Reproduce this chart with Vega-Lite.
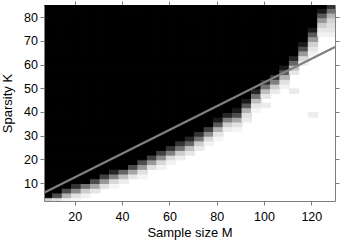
{
"$schema":"https://vega.github.io/schema/vega-lite/v6.json",
"autosize":"none","width":291,"height":196,
"padding":{"left":44,"top":5,"right":11,"bottom":40},
"background":"white",
"config":{"view":{"stroke":null},"font":"Liberation Sans","axis":{"grid":false,"domainColor":"#7f7f7f","tickColor":"#7f7f7f","tickSize":4,"labelColor":"#000","titleColor":"#000","labelFontSize":12.5,"titleFontSize":13,"titleFontWeight":"normal"}},
"datasets":{
"cells":[
{"M":6.5,"K":2,"p":0.82},{"M":6.5,"K":4,"p":0},{"M":6.5,"K":6,"p":0},{"M":6.5,"K":8,"p":0},{"M":6.5,"K":10,"p":0},{"M":6.5,"K":12,"p":0},{"M":6.5,"K":14,"p":0},{"M":6.5,"K":16,"p":0},{"M":6.5,"K":18,"p":0},{"M":6.5,"K":20,"p":0},{"M":6.5,"K":22,"p":0},{"M":6.5,"K":24,"p":0},{"M":6.5,"K":26,"p":0},{"M":6.5,"K":28,"p":0},{"M":6.5,"K":30,"p":0},{"M":6.5,"K":32,"p":0},{"M":6.5,"K":34,"p":0},{"M":6.5,"K":36,"p":0},{"M":6.5,"K":38,"p":0},{"M":6.5,"K":40,"p":0},{"M":6.5,"K":42,"p":0},{"M":6.5,"K":44,"p":0},{"M":6.5,"K":46,"p":0},{"M":6.5,"K":48,"p":0},{"M":6.5,"K":50,"p":0},{"M":6.5,"K":52,"p":0},{"M":6.5,"K":54,"p":0},{"M":6.5,"K":56,"p":0},{"M":6.5,"K":58,"p":0},{"M":6.5,"K":60,"p":0},{"M":6.5,"K":62,"p":0},{"M":6.5,"K":64,"p":0},{"M":6.5,"K":66,"p":0},{"M":6.5,"K":68,"p":0},{"M":6.5,"K":70,"p":0},{"M":6.5,"K":72,"p":0},{"M":6.5,"K":74,"p":0},{"M":6.5,"K":76,"p":0},{"M":6.5,"K":78,"p":0},{"M":6.5,"K":80,"p":0},{"M":6.5,"K":82,"p":0},{"M":6.5,"K":84,"p":0},
{"M":10.5,"K":2,"p":0.88},{"M":10.5,"K":4,"p":0.3},{"M":10.5,"K":6,"p":0},{"M":10.5,"K":8,"p":0},{"M":10.5,"K":10,"p":0},{"M":10.5,"K":12,"p":0},{"M":10.5,"K":14,"p":0},{"M":10.5,"K":16,"p":0},{"M":10.5,"K":18,"p":0},{"M":10.5,"K":20,"p":0},{"M":10.5,"K":22,"p":0},{"M":10.5,"K":24,"p":0},{"M":10.5,"K":26,"p":0},{"M":10.5,"K":28,"p":0},{"M":10.5,"K":30,"p":0},{"M":10.5,"K":32,"p":0},{"M":10.5,"K":34,"p":0},{"M":10.5,"K":36,"p":0},{"M":10.5,"K":38,"p":0},{"M":10.5,"K":40,"p":0},{"M":10.5,"K":42,"p":0},{"M":10.5,"K":44,"p":0},{"M":10.5,"K":46,"p":0},{"M":10.5,"K":48,"p":0},{"M":10.5,"K":50,"p":0},{"M":10.5,"K":52,"p":0},{"M":10.5,"K":54,"p":0},{"M":10.5,"K":56,"p":0},{"M":10.5,"K":58,"p":0},{"M":10.5,"K":60,"p":0},{"M":10.5,"K":62,"p":0},{"M":10.5,"K":64,"p":0},{"M":10.5,"K":66,"p":0},{"M":10.5,"K":68,"p":0},{"M":10.5,"K":70,"p":0},{"M":10.5,"K":72,"p":0},{"M":10.5,"K":74,"p":0},{"M":10.5,"K":76,"p":0},{"M":10.5,"K":78,"p":0},{"M":10.5,"K":80,"p":0},{"M":10.5,"K":82,"p":0},{"M":10.5,"K":84,"p":0},
{"M":14.5,"K":2,"p":0.95},{"M":14.5,"K":4,"p":0.7},{"M":14.5,"K":6,"p":0.3},{"M":14.5,"K":8,"p":0},{"M":14.5,"K":10,"p":0},{"M":14.5,"K":12,"p":0},{"M":14.5,"K":14,"p":0},{"M":14.5,"K":16,"p":0},{"M":14.5,"K":18,"p":0},{"M":14.5,"K":20,"p":0},{"M":14.5,"K":22,"p":0},{"M":14.5,"K":24,"p":0},{"M":14.5,"K":26,"p":0},{"M":14.5,"K":28,"p":0},{"M":14.5,"K":30,"p":0},{"M":14.5,"K":32,"p":0},{"M":14.5,"K":34,"p":0},{"M":14.5,"K":36,"p":0},{"M":14.5,"K":38,"p":0},{"M":14.5,"K":40,"p":0},{"M":14.5,"K":42,"p":0},{"M":14.5,"K":44,"p":0},{"M":14.5,"K":46,"p":0},{"M":14.5,"K":48,"p":0},{"M":14.5,"K":50,"p":0},{"M":14.5,"K":52,"p":0},{"M":14.5,"K":54,"p":0},{"M":14.5,"K":56,"p":0},{"M":14.5,"K":58,"p":0},{"M":14.5,"K":60,"p":0},{"M":14.5,"K":62,"p":0},{"M":14.5,"K":64,"p":0},{"M":14.5,"K":66,"p":0},{"M":14.5,"K":68,"p":0},{"M":14.5,"K":70,"p":0},{"M":14.5,"K":72,"p":0},{"M":14.5,"K":74,"p":0},{"M":14.5,"K":76,"p":0},{"M":14.5,"K":78,"p":0},{"M":14.5,"K":80,"p":0},{"M":14.5,"K":82,"p":0},{"M":14.5,"K":84,"p":0},
{"M":18.5,"K":2,"p":0.97},{"M":18.5,"K":4,"p":0.88},{"M":18.5,"K":6,"p":0.55},{"M":18.5,"K":8,"p":0.2},{"M":18.5,"K":10,"p":0},{"M":18.5,"K":12,"p":0},{"M":18.5,"K":14,"p":0},{"M":18.5,"K":16,"p":0},{"M":18.5,"K":18,"p":0},{"M":18.5,"K":20,"p":0},{"M":18.5,"K":22,"p":0},{"M":18.5,"K":24,"p":0},{"M":18.5,"K":26,"p":0},{"M":18.5,"K":28,"p":0},{"M":18.5,"K":30,"p":0},{"M":18.5,"K":32,"p":0},{"M":18.5,"K":34,"p":0},{"M":18.5,"K":36,"p":0},{"M":18.5,"K":38,"p":0},{"M":18.5,"K":40,"p":0},{"M":18.5,"K":42,"p":0},{"M":18.5,"K":44,"p":0},{"M":18.5,"K":46,"p":0},{"M":18.5,"K":48,"p":0},{"M":18.5,"K":50,"p":0},{"M":18.5,"K":52,"p":0},{"M":18.5,"K":54,"p":0},{"M":18.5,"K":56,"p":0},{"M":18.5,"K":58,"p":0},{"M":18.5,"K":60,"p":0},{"M":18.5,"K":62,"p":0},{"M":18.5,"K":64,"p":0},{"M":18.5,"K":66,"p":0},{"M":18.5,"K":68,"p":0},{"M":18.5,"K":70,"p":0},{"M":18.5,"K":72,"p":0},{"M":18.5,"K":74,"p":0},{"M":18.5,"K":76,"p":0},{"M":18.5,"K":78,"p":0},{"M":18.5,"K":80,"p":0},{"M":18.5,"K":82,"p":0},{"M":18.5,"K":84,"p":0},
{"M":22.5,"K":4,"p":0.95},{"M":22.5,"K":6,"p":0.8},{"M":22.5,"K":8,"p":0.45},{"M":22.5,"K":10,"p":0},{"M":22.5,"K":12,"p":0},{"M":22.5,"K":14,"p":0},{"M":22.5,"K":16,"p":0},{"M":22.5,"K":18,"p":0},{"M":22.5,"K":20,"p":0},{"M":22.5,"K":22,"p":0},{"M":22.5,"K":24,"p":0},{"M":22.5,"K":26,"p":0},{"M":22.5,"K":28,"p":0},{"M":22.5,"K":30,"p":0},{"M":22.5,"K":32,"p":0},{"M":22.5,"K":34,"p":0},{"M":22.5,"K":36,"p":0},{"M":22.5,"K":38,"p":0},{"M":22.5,"K":40,"p":0},{"M":22.5,"K":42,"p":0},{"M":22.5,"K":44,"p":0},{"M":22.5,"K":46,"p":0},{"M":22.5,"K":48,"p":0},{"M":22.5,"K":50,"p":0},{"M":22.5,"K":52,"p":0},{"M":22.5,"K":54,"p":0},{"M":22.5,"K":56,"p":0},{"M":22.5,"K":58,"p":0},{"M":22.5,"K":60,"p":0},{"M":22.5,"K":62,"p":0},{"M":22.5,"K":64,"p":0},{"M":22.5,"K":66,"p":0},{"M":22.5,"K":68,"p":0},{"M":22.5,"K":70,"p":0},{"M":22.5,"K":72,"p":0},{"M":22.5,"K":74,"p":0},{"M":22.5,"K":76,"p":0},{"M":22.5,"K":78,"p":0},{"M":22.5,"K":80,"p":0},{"M":22.5,"K":82,"p":0},{"M":22.5,"K":84,"p":0},
{"M":26.5,"K":6,"p":0.9},{"M":26.5,"K":8,"p":0.65},{"M":26.5,"K":10,"p":0.3},{"M":26.5,"K":12,"p":0},{"M":26.5,"K":14,"p":0},{"M":26.5,"K":16,"p":0},{"M":26.5,"K":18,"p":0},{"M":26.5,"K":20,"p":0},{"M":26.5,"K":22,"p":0},{"M":26.5,"K":24,"p":0},{"M":26.5,"K":26,"p":0},{"M":26.5,"K":28,"p":0},{"M":26.5,"K":30,"p":0},{"M":26.5,"K":32,"p":0},{"M":26.5,"K":34,"p":0},{"M":26.5,"K":36,"p":0},{"M":26.5,"K":38,"p":0},{"M":26.5,"K":40,"p":0},{"M":26.5,"K":42,"p":0},{"M":26.5,"K":44,"p":0},{"M":26.5,"K":46,"p":0},{"M":26.5,"K":48,"p":0},{"M":26.5,"K":50,"p":0},{"M":26.5,"K":52,"p":0},{"M":26.5,"K":54,"p":0},{"M":26.5,"K":56,"p":0},{"M":26.5,"K":58,"p":0},{"M":26.5,"K":60,"p":0},{"M":26.5,"K":62,"p":0},{"M":26.5,"K":64,"p":0},{"M":26.5,"K":66,"p":0},{"M":26.5,"K":68,"p":0},{"M":26.5,"K":70,"p":0},{"M":26.5,"K":72,"p":0},{"M":26.5,"K":74,"p":0},{"M":26.5,"K":76,"p":0},{"M":26.5,"K":78,"p":0},{"M":26.5,"K":80,"p":0},{"M":26.5,"K":82,"p":0},{"M":26.5,"K":84,"p":0},
{"M":30.5,"K":8,"p":0.88},{"M":30.5,"K":10,"p":0.6},{"M":30.5,"K":12,"p":0.25},{"M":30.5,"K":14,"p":0},{"M":30.5,"K":16,"p":0},{"M":30.5,"K":18,"p":0},{"M":30.5,"K":20,"p":0},{"M":30.5,"K":22,"p":0},{"M":30.5,"K":24,"p":0},{"M":30.5,"K":26,"p":0},{"M":30.5,"K":28,"p":0},{"M":30.5,"K":30,"p":0},{"M":30.5,"K":32,"p":0},{"M":30.5,"K":34,"p":0},{"M":30.5,"K":36,"p":0},{"M":30.5,"K":38,"p":0},{"M":30.5,"K":40,"p":0},{"M":30.5,"K":42,"p":0},{"M":30.5,"K":44,"p":0},{"M":30.5,"K":46,"p":0},{"M":30.5,"K":48,"p":0},{"M":30.5,"K":50,"p":0},{"M":30.5,"K":52,"p":0},{"M":30.5,"K":54,"p":0},{"M":30.5,"K":56,"p":0},{"M":30.5,"K":58,"p":0},{"M":30.5,"K":60,"p":0},{"M":30.5,"K":62,"p":0},{"M":30.5,"K":64,"p":0},{"M":30.5,"K":66,"p":0},{"M":30.5,"K":68,"p":0},{"M":30.5,"K":70,"p":0},{"M":30.5,"K":72,"p":0},{"M":30.5,"K":74,"p":0},{"M":30.5,"K":76,"p":0},{"M":30.5,"K":78,"p":0},{"M":30.5,"K":80,"p":0},{"M":30.5,"K":82,"p":0},{"M":30.5,"K":84,"p":0},
{"M":34.5,"K":8,"p":0.96},{"M":34.5,"K":10,"p":0.85},{"M":34.5,"K":12,"p":0.5},{"M":34.5,"K":14,"p":0.15},{"M":34.5,"K":16,"p":0},{"M":34.5,"K":18,"p":0},{"M":34.5,"K":20,"p":0},{"M":34.5,"K":22,"p":0},{"M":34.5,"K":24,"p":0},{"M":34.5,"K":26,"p":0},{"M":34.5,"K":28,"p":0},{"M":34.5,"K":30,"p":0},{"M":34.5,"K":32,"p":0},{"M":34.5,"K":34,"p":0},{"M":34.5,"K":36,"p":0},{"M":34.5,"K":38,"p":0},{"M":34.5,"K":40,"p":0},{"M":34.5,"K":42,"p":0},{"M":34.5,"K":44,"p":0},{"M":34.5,"K":46,"p":0},{"M":34.5,"K":48,"p":0},{"M":34.5,"K":50,"p":0},{"M":34.5,"K":52,"p":0},{"M":34.5,"K":54,"p":0},{"M":34.5,"K":56,"p":0},{"M":34.5,"K":58,"p":0},{"M":34.5,"K":60,"p":0},{"M":34.5,"K":62,"p":0},{"M":34.5,"K":64,"p":0},{"M":34.5,"K":66,"p":0},{"M":34.5,"K":68,"p":0},{"M":34.5,"K":70,"p":0},{"M":34.5,"K":72,"p":0},{"M":34.5,"K":74,"p":0},{"M":34.5,"K":76,"p":0},{"M":34.5,"K":78,"p":0},{"M":34.5,"K":80,"p":0},{"M":34.5,"K":82,"p":0},{"M":34.5,"K":84,"p":0},
{"M":38.5,"K":10,"p":0.93},{"M":38.5,"K":12,"p":0.75},{"M":38.5,"K":14,"p":0.4},{"M":38.5,"K":16,"p":0},{"M":38.5,"K":18,"p":0},{"M":38.5,"K":20,"p":0},{"M":38.5,"K":22,"p":0},{"M":38.5,"K":24,"p":0},{"M":38.5,"K":26,"p":0},{"M":38.5,"K":28,"p":0},{"M":38.5,"K":30,"p":0},{"M":38.5,"K":32,"p":0},{"M":38.5,"K":34,"p":0},{"M":38.5,"K":36,"p":0},{"M":38.5,"K":38,"p":0},{"M":38.5,"K":40,"p":0},{"M":38.5,"K":42,"p":0},{"M":38.5,"K":44,"p":0},{"M":38.5,"K":46,"p":0},{"M":38.5,"K":48,"p":0},{"M":38.5,"K":50,"p":0},{"M":38.5,"K":52,"p":0},{"M":38.5,"K":54,"p":0},{"M":38.5,"K":56,"p":0},{"M":38.5,"K":58,"p":0},{"M":38.5,"K":60,"p":0},{"M":38.5,"K":62,"p":0},{"M":38.5,"K":64,"p":0},{"M":38.5,"K":66,"p":0},{"M":38.5,"K":68,"p":0},{"M":38.5,"K":70,"p":0},{"M":38.5,"K":72,"p":0},{"M":38.5,"K":74,"p":0},{"M":38.5,"K":76,"p":0},{"M":38.5,"K":78,"p":0},{"M":38.5,"K":80,"p":0},{"M":38.5,"K":82,"p":0},{"M":38.5,"K":84,"p":0},
{"M":42.5,"K":12,"p":0.9},{"M":42.5,"K":14,"p":0.65},{"M":42.5,"K":16,"p":0.3},{"M":42.5,"K":18,"p":0},{"M":42.5,"K":20,"p":0},{"M":42.5,"K":22,"p":0},{"M":42.5,"K":24,"p":0},{"M":42.5,"K":26,"p":0},{"M":42.5,"K":28,"p":0},{"M":42.5,"K":30,"p":0},{"M":42.5,"K":32,"p":0},{"M":42.5,"K":34,"p":0},{"M":42.5,"K":36,"p":0},{"M":42.5,"K":38,"p":0},{"M":42.5,"K":40,"p":0},{"M":42.5,"K":42,"p":0},{"M":42.5,"K":44,"p":0},{"M":42.5,"K":46,"p":0},{"M":42.5,"K":48,"p":0},{"M":42.5,"K":50,"p":0},{"M":42.5,"K":52,"p":0},{"M":42.5,"K":54,"p":0},{"M":42.5,"K":56,"p":0},{"M":42.5,"K":58,"p":0},{"M":42.5,"K":60,"p":0},{"M":42.5,"K":62,"p":0},{"M":42.5,"K":64,"p":0},{"M":42.5,"K":66,"p":0},{"M":42.5,"K":68,"p":0},{"M":42.5,"K":70,"p":0},{"M":42.5,"K":72,"p":0},{"M":42.5,"K":74,"p":0},{"M":42.5,"K":76,"p":0},{"M":42.5,"K":78,"p":0},{"M":42.5,"K":80,"p":0},{"M":42.5,"K":82,"p":0},{"M":42.5,"K":84,"p":0},
{"M":46.5,"K":12,"p":0.96},{"M":46.5,"K":14,"p":0.88},{"M":46.5,"K":16,"p":0.6},{"M":46.5,"K":18,"p":0.3},{"M":46.5,"K":20,"p":0},{"M":46.5,"K":22,"p":0},{"M":46.5,"K":24,"p":0},{"M":46.5,"K":26,"p":0},{"M":46.5,"K":28,"p":0},{"M":46.5,"K":30,"p":0},{"M":46.5,"K":32,"p":0},{"M":46.5,"K":34,"p":0},{"M":46.5,"K":36,"p":0},{"M":46.5,"K":38,"p":0},{"M":46.5,"K":40,"p":0},{"M":46.5,"K":42,"p":0},{"M":46.5,"K":44,"p":0},{"M":46.5,"K":46,"p":0},{"M":46.5,"K":48,"p":0},{"M":46.5,"K":50,"p":0},{"M":46.5,"K":52,"p":0},{"M":46.5,"K":54,"p":0},{"M":46.5,"K":56,"p":0},{"M":46.5,"K":58,"p":0},{"M":46.5,"K":60,"p":0},{"M":46.5,"K":62,"p":0},{"M":46.5,"K":64,"p":0},{"M":46.5,"K":66,"p":0},{"M":46.5,"K":68,"p":0},{"M":46.5,"K":70,"p":0},{"M":46.5,"K":72,"p":0},{"M":46.5,"K":74,"p":0},{"M":46.5,"K":76,"p":0},{"M":46.5,"K":78,"p":0},{"M":46.5,"K":80,"p":0},{"M":46.5,"K":82,"p":0},{"M":46.5,"K":84,"p":0},
{"M":50.5,"K":16,"p":0.88},{"M":50.5,"K":18,"p":0.6},{"M":50.5,"K":20,"p":0.25},{"M":50.5,"K":22,"p":0},{"M":50.5,"K":24,"p":0},{"M":50.5,"K":26,"p":0},{"M":50.5,"K":28,"p":0},{"M":50.5,"K":30,"p":0},{"M":50.5,"K":32,"p":0},{"M":50.5,"K":34,"p":0},{"M":50.5,"K":36,"p":0},{"M":50.5,"K":38,"p":0},{"M":50.5,"K":40,"p":0},{"M":50.5,"K":42,"p":0},{"M":50.5,"K":44,"p":0},{"M":50.5,"K":46,"p":0},{"M":50.5,"K":48,"p":0},{"M":50.5,"K":50,"p":0},{"M":50.5,"K":52,"p":0},{"M":50.5,"K":54,"p":0},{"M":50.5,"K":56,"p":0},{"M":50.5,"K":58,"p":0},{"M":50.5,"K":60,"p":0},{"M":50.5,"K":62,"p":0},{"M":50.5,"K":64,"p":0},{"M":50.5,"K":66,"p":0},{"M":50.5,"K":68,"p":0},{"M":50.5,"K":70,"p":0},{"M":50.5,"K":72,"p":0},{"M":50.5,"K":74,"p":0},{"M":50.5,"K":76,"p":0},{"M":50.5,"K":78,"p":0},{"M":50.5,"K":80,"p":0},{"M":50.5,"K":82,"p":0},{"M":50.5,"K":84,"p":0},
{"M":54.5,"K":16,"p":0.95},{"M":54.5,"K":18,"p":0.85},{"M":54.5,"K":20,"p":0.55},{"M":54.5,"K":22,"p":0.25},{"M":54.5,"K":24,"p":0},{"M":54.5,"K":26,"p":0},{"M":54.5,"K":28,"p":0},{"M":54.5,"K":30,"p":0},{"M":54.5,"K":32,"p":0},{"M":54.5,"K":34,"p":0},{"M":54.5,"K":36,"p":0},{"M":54.5,"K":38,"p":0},{"M":54.5,"K":40,"p":0},{"M":54.5,"K":42,"p":0},{"M":54.5,"K":44,"p":0},{"M":54.5,"K":46,"p":0},{"M":54.5,"K":48,"p":0},{"M":54.5,"K":50,"p":0},{"M":54.5,"K":52,"p":0},{"M":54.5,"K":54,"p":0},{"M":54.5,"K":56,"p":0},{"M":54.5,"K":58,"p":0},{"M":54.5,"K":60,"p":0},{"M":54.5,"K":62,"p":0},{"M":54.5,"K":64,"p":0},{"M":54.5,"K":66,"p":0},{"M":54.5,"K":68,"p":0},{"M":54.5,"K":70,"p":0},{"M":54.5,"K":72,"p":0},{"M":54.5,"K":74,"p":0},{"M":54.5,"K":76,"p":0},{"M":54.5,"K":78,"p":0},{"M":54.5,"K":80,"p":0},{"M":54.5,"K":82,"p":0},{"M":54.5,"K":84,"p":0},
{"M":58.5,"K":18,"p":0.95},{"M":58.5,"K":20,"p":0.85},{"M":58.5,"K":22,"p":0.5},{"M":58.5,"K":24,"p":0.2},{"M":58.5,"K":26,"p":0},{"M":58.5,"K":28,"p":0},{"M":58.5,"K":30,"p":0},{"M":58.5,"K":32,"p":0},{"M":58.5,"K":34,"p":0},{"M":58.5,"K":36,"p":0},{"M":58.5,"K":38,"p":0},{"M":58.5,"K":40,"p":0},{"M":58.5,"K":42,"p":0},{"M":58.5,"K":44,"p":0},{"M":58.5,"K":46,"p":0},{"M":58.5,"K":48,"p":0},{"M":58.5,"K":50,"p":0},{"M":58.5,"K":52,"p":0},{"M":58.5,"K":54,"p":0},{"M":58.5,"K":56,"p":0},{"M":58.5,"K":58,"p":0},{"M":58.5,"K":60,"p":0},{"M":58.5,"K":62,"p":0},{"M":58.5,"K":64,"p":0},{"M":58.5,"K":66,"p":0},{"M":58.5,"K":68,"p":0},{"M":58.5,"K":70,"p":0},{"M":58.5,"K":72,"p":0},{"M":58.5,"K":74,"p":0},{"M":58.5,"K":76,"p":0},{"M":58.5,"K":78,"p":0},{"M":58.5,"K":80,"p":0},{"M":58.5,"K":82,"p":0},{"M":58.5,"K":84,"p":0},
{"M":62.5,"K":20,"p":0.93},{"M":62.5,"K":22,"p":0.8},{"M":62.5,"K":24,"p":0.45},{"M":62.5,"K":26,"p":0.2},{"M":62.5,"K":28,"p":0},{"M":62.5,"K":30,"p":0},{"M":62.5,"K":32,"p":0},{"M":62.5,"K":34,"p":0},{"M":62.5,"K":36,"p":0},{"M":62.5,"K":38,"p":0},{"M":62.5,"K":40,"p":0},{"M":62.5,"K":42,"p":0},{"M":62.5,"K":44,"p":0},{"M":62.5,"K":46,"p":0},{"M":62.5,"K":48,"p":0},{"M":62.5,"K":50,"p":0},{"M":62.5,"K":52,"p":0},{"M":62.5,"K":54,"p":0},{"M":62.5,"K":56,"p":0},{"M":62.5,"K":58,"p":0},{"M":62.5,"K":60,"p":0},{"M":62.5,"K":62,"p":0},{"M":62.5,"K":64,"p":0},{"M":62.5,"K":66,"p":0},{"M":62.5,"K":68,"p":0},{"M":62.5,"K":70,"p":0},{"M":62.5,"K":72,"p":0},{"M":62.5,"K":74,"p":0},{"M":62.5,"K":76,"p":0},{"M":62.5,"K":78,"p":0},{"M":62.5,"K":80,"p":0},{"M":62.5,"K":82,"p":0},{"M":62.5,"K":84,"p":0},
{"M":66.5,"K":22,"p":0.9},{"M":66.5,"K":24,"p":0.75},{"M":66.5,"K":26,"p":0.4},{"M":66.5,"K":28,"p":0.15},{"M":66.5,"K":30,"p":0},{"M":66.5,"K":32,"p":0},{"M":66.5,"K":34,"p":0},{"M":66.5,"K":36,"p":0},{"M":66.5,"K":38,"p":0},{"M":66.5,"K":40,"p":0},{"M":66.5,"K":42,"p":0},{"M":66.5,"K":44,"p":0},{"M":66.5,"K":46,"p":0},{"M":66.5,"K":48,"p":0},{"M":66.5,"K":50,"p":0},{"M":66.5,"K":52,"p":0},{"M":66.5,"K":54,"p":0},{"M":66.5,"K":56,"p":0},{"M":66.5,"K":58,"p":0},{"M":66.5,"K":60,"p":0},{"M":66.5,"K":62,"p":0},{"M":66.5,"K":64,"p":0},{"M":66.5,"K":66,"p":0},{"M":66.5,"K":68,"p":0},{"M":66.5,"K":70,"p":0},{"M":66.5,"K":72,"p":0},{"M":66.5,"K":74,"p":0},{"M":66.5,"K":76,"p":0},{"M":66.5,"K":78,"p":0},{"M":66.5,"K":80,"p":0},{"M":66.5,"K":82,"p":0},{"M":66.5,"K":84,"p":0},
{"M":70.5,"K":24,"p":0.92},{"M":70.5,"K":26,"p":0.8},{"M":70.5,"K":28,"p":0.45},{"M":70.5,"K":30,"p":0.2},{"M":70.5,"K":32,"p":0},{"M":70.5,"K":34,"p":0},{"M":70.5,"K":36,"p":0},{"M":70.5,"K":38,"p":0},{"M":70.5,"K":40,"p":0},{"M":70.5,"K":42,"p":0},{"M":70.5,"K":44,"p":0},{"M":70.5,"K":46,"p":0},{"M":70.5,"K":48,"p":0},{"M":70.5,"K":50,"p":0},{"M":70.5,"K":52,"p":0},{"M":70.5,"K":54,"p":0},{"M":70.5,"K":56,"p":0},{"M":70.5,"K":58,"p":0},{"M":70.5,"K":60,"p":0},{"M":70.5,"K":62,"p":0},{"M":70.5,"K":64,"p":0},{"M":70.5,"K":66,"p":0},{"M":70.5,"K":68,"p":0},{"M":70.5,"K":70,"p":0},{"M":70.5,"K":72,"p":0},{"M":70.5,"K":74,"p":0},{"M":70.5,"K":76,"p":0},{"M":70.5,"K":78,"p":0},{"M":70.5,"K":80,"p":0},{"M":70.5,"K":82,"p":0},{"M":70.5,"K":84,"p":0},
{"M":74.5,"K":26,"p":0.95},{"M":74.5,"K":28,"p":0.85},{"M":74.5,"K":30,"p":0.55},{"M":74.5,"K":32,"p":0.25},{"M":74.5,"K":34,"p":0},{"M":74.5,"K":36,"p":0},{"M":74.5,"K":38,"p":0},{"M":74.5,"K":40,"p":0},{"M":74.5,"K":42,"p":0},{"M":74.5,"K":44,"p":0},{"M":74.5,"K":46,"p":0},{"M":74.5,"K":48,"p":0},{"M":74.5,"K":50,"p":0},{"M":74.5,"K":52,"p":0},{"M":74.5,"K":54,"p":0},{"M":74.5,"K":56,"p":0},{"M":74.5,"K":58,"p":0},{"M":74.5,"K":60,"p":0},{"M":74.5,"K":62,"p":0},{"M":74.5,"K":64,"p":0},{"M":74.5,"K":66,"p":0},{"M":74.5,"K":68,"p":0},{"M":74.5,"K":70,"p":0},{"M":74.5,"K":72,"p":0},{"M":74.5,"K":74,"p":0},{"M":74.5,"K":76,"p":0},{"M":74.5,"K":78,"p":0},{"M":74.5,"K":80,"p":0},{"M":74.5,"K":82,"p":0},{"M":74.5,"K":84,"p":0},
{"M":78.5,"K":28,"p":0.97},{"M":78.5,"K":30,"p":0.9},{"M":78.5,"K":32,"p":0.7},{"M":78.5,"K":34,"p":0.35},{"M":78.5,"K":36,"p":0.1},{"M":78.5,"K":38,"p":0},{"M":78.5,"K":40,"p":0},{"M":78.5,"K":42,"p":0},{"M":78.5,"K":44,"p":0},{"M":78.5,"K":46,"p":0},{"M":78.5,"K":48,"p":0},{"M":78.5,"K":50,"p":0},{"M":78.5,"K":52,"p":0},{"M":78.5,"K":54,"p":0},{"M":78.5,"K":56,"p":0},{"M":78.5,"K":58,"p":0},{"M":78.5,"K":60,"p":0},{"M":78.5,"K":62,"p":0},{"M":78.5,"K":64,"p":0},{"M":78.5,"K":66,"p":0},{"M":78.5,"K":68,"p":0},{"M":78.5,"K":70,"p":0},{"M":78.5,"K":72,"p":0},{"M":78.5,"K":74,"p":0},{"M":78.5,"K":76,"p":0},{"M":78.5,"K":78,"p":0},{"M":78.5,"K":80,"p":0},{"M":78.5,"K":82,"p":0},{"M":78.5,"K":84,"p":0},
{"M":82.5,"K":32,"p":0.93},{"M":82.5,"K":34,"p":0.8},{"M":82.5,"K":36,"p":0.5},{"M":82.5,"K":38,"p":0.15},{"M":82.5,"K":40,"p":0},{"M":82.5,"K":42,"p":0},{"M":82.5,"K":44,"p":0},{"M":82.5,"K":46,"p":0},{"M":82.5,"K":48,"p":0},{"M":82.5,"K":50,"p":0},{"M":82.5,"K":52,"p":0},{"M":82.5,"K":54,"p":0},{"M":82.5,"K":56,"p":0},{"M":82.5,"K":58,"p":0},{"M":82.5,"K":60,"p":0},{"M":82.5,"K":62,"p":0},{"M":82.5,"K":64,"p":0},{"M":82.5,"K":66,"p":0},{"M":82.5,"K":68,"p":0},{"M":82.5,"K":70,"p":0},{"M":82.5,"K":72,"p":0},{"M":82.5,"K":74,"p":0},{"M":82.5,"K":76,"p":0},{"M":82.5,"K":78,"p":0},{"M":82.5,"K":80,"p":0},{"M":82.5,"K":82,"p":0},{"M":82.5,"K":84,"p":0},
{"M":86.5,"K":32,"p":0.96},{"M":86.5,"K":34,"p":0.88},{"M":86.5,"K":36,"p":0.65},{"M":86.5,"K":38,"p":0.3},{"M":86.5,"K":40,"p":0.1},{"M":86.5,"K":42,"p":0},{"M":86.5,"K":44,"p":0},{"M":86.5,"K":46,"p":0},{"M":86.5,"K":48,"p":0},{"M":86.5,"K":50,"p":0},{"M":86.5,"K":52,"p":0},{"M":86.5,"K":54,"p":0},{"M":86.5,"K":56,"p":0},{"M":86.5,"K":58,"p":0},{"M":86.5,"K":60,"p":0},{"M":86.5,"K":62,"p":0},{"M":86.5,"K":64,"p":0},{"M":86.5,"K":66,"p":0},{"M":86.5,"K":68,"p":0},{"M":86.5,"K":70,"p":0},{"M":86.5,"K":72,"p":0},{"M":86.5,"K":74,"p":0},{"M":86.5,"K":76,"p":0},{"M":86.5,"K":78,"p":0},{"M":86.5,"K":80,"p":0},{"M":86.5,"K":82,"p":0},{"M":86.5,"K":84,"p":0},
{"M":90.5,"K":36,"p":0.92},{"M":90.5,"K":38,"p":0.88},{"M":90.5,"K":40,"p":0.7},{"M":90.5,"K":42,"p":0.35},{"M":90.5,"K":44,"p":0.1},{"M":90.5,"K":46,"p":0},{"M":90.5,"K":48,"p":0},{"M":90.5,"K":50,"p":0},{"M":90.5,"K":52,"p":0},{"M":90.5,"K":54,"p":0},{"M":90.5,"K":56,"p":0},{"M":90.5,"K":58,"p":0},{"M":90.5,"K":60,"p":0},{"M":90.5,"K":62,"p":0},{"M":90.5,"K":64,"p":0},{"M":90.5,"K":66,"p":0},{"M":90.5,"K":68,"p":0},{"M":90.5,"K":70,"p":0},{"M":90.5,"K":72,"p":0},{"M":90.5,"K":74,"p":0},{"M":90.5,"K":76,"p":0},{"M":90.5,"K":78,"p":0},{"M":90.5,"K":80,"p":0},{"M":90.5,"K":82,"p":0},{"M":90.5,"K":84,"p":0},
{"M":94.5,"K":40,"p":0.96},{"M":94.5,"K":42,"p":0.9},{"M":94.5,"K":44,"p":0.75},{"M":94.5,"K":46,"p":0.45},{"M":94.5,"K":48,"p":0.15},{"M":94.5,"K":50,"p":0},{"M":94.5,"K":52,"p":0},{"M":94.5,"K":54,"p":0},{"M":94.5,"K":56,"p":0},{"M":94.5,"K":58,"p":0},{"M":94.5,"K":60,"p":0},{"M":94.5,"K":62,"p":0},{"M":94.5,"K":64,"p":0},{"M":94.5,"K":66,"p":0},{"M":94.5,"K":68,"p":0},{"M":94.5,"K":70,"p":0},{"M":94.5,"K":72,"p":0},{"M":94.5,"K":74,"p":0},{"M":94.5,"K":76,"p":0},{"M":94.5,"K":78,"p":0},{"M":94.5,"K":80,"p":0},{"M":94.5,"K":82,"p":0},{"M":94.5,"K":84,"p":0},
{"M":98.5,"K":42,"p":0.92},{"M":98.5,"K":46,"p":0.9},{"M":98.5,"K":48,"p":0.75},{"M":98.5,"K":50,"p":0.45},{"M":98.5,"K":52,"p":0.15},{"M":98.5,"K":54,"p":0},{"M":98.5,"K":56,"p":0},{"M":98.5,"K":58,"p":0},{"M":98.5,"K":60,"p":0},{"M":98.5,"K":62,"p":0},{"M":98.5,"K":64,"p":0},{"M":98.5,"K":66,"p":0},{"M":98.5,"K":68,"p":0},{"M":98.5,"K":70,"p":0},{"M":98.5,"K":72,"p":0},{"M":98.5,"K":74,"p":0},{"M":98.5,"K":76,"p":0},{"M":98.5,"K":78,"p":0},{"M":98.5,"K":80,"p":0},{"M":98.5,"K":82,"p":0},{"M":98.5,"K":84,"p":0},
{"M":102.5,"K":48,"p":0.92},{"M":102.5,"K":50,"p":0.8},{"M":102.5,"K":52,"p":0.5},{"M":102.5,"K":54,"p":0.2},{"M":102.5,"K":56,"p":0},{"M":102.5,"K":58,"p":0},{"M":102.5,"K":60,"p":0},{"M":102.5,"K":62,"p":0},{"M":102.5,"K":64,"p":0},{"M":102.5,"K":66,"p":0},{"M":102.5,"K":68,"p":0},{"M":102.5,"K":70,"p":0},{"M":102.5,"K":72,"p":0},{"M":102.5,"K":74,"p":0},{"M":102.5,"K":76,"p":0},{"M":102.5,"K":78,"p":0},{"M":102.5,"K":80,"p":0},{"M":102.5,"K":82,"p":0},{"M":102.5,"K":84,"p":0},
{"M":106.5,"K":50,"p":0.95},{"M":106.5,"K":52,"p":0.88},{"M":106.5,"K":54,"p":0.7},{"M":106.5,"K":56,"p":0.35},{"M":106.5,"K":58,"p":0.1},{"M":106.5,"K":60,"p":0},{"M":106.5,"K":62,"p":0},{"M":106.5,"K":64,"p":0},{"M":106.5,"K":66,"p":0},{"M":106.5,"K":68,"p":0},{"M":106.5,"K":70,"p":0},{"M":106.5,"K":72,"p":0},{"M":106.5,"K":74,"p":0},{"M":106.5,"K":76,"p":0},{"M":106.5,"K":78,"p":0},{"M":106.5,"K":80,"p":0},{"M":106.5,"K":82,"p":0},{"M":106.5,"K":84,"p":0},
{"M":110.5,"K":48,"p":0.92},{"M":110.5,"K":56,"p":0.9},{"M":110.5,"K":58,"p":0.75},{"M":110.5,"K":60,"p":0.4},{"M":110.5,"K":62,"p":0.15},{"M":110.5,"K":64,"p":0},{"M":110.5,"K":66,"p":0},{"M":110.5,"K":68,"p":0},{"M":110.5,"K":70,"p":0},{"M":110.5,"K":72,"p":0},{"M":110.5,"K":74,"p":0},{"M":110.5,"K":76,"p":0},{"M":110.5,"K":78,"p":0},{"M":110.5,"K":80,"p":0},{"M":110.5,"K":82,"p":0},{"M":110.5,"K":84,"p":0},
{"M":114.5,"K":60,"p":0.93},{"M":114.5,"K":62,"p":0.85},{"M":114.5,"K":64,"p":0.6},{"M":114.5,"K":66,"p":0.3},{"M":114.5,"K":68,"p":0.1},{"M":114.5,"K":70,"p":0},{"M":114.5,"K":72,"p":0},{"M":114.5,"K":74,"p":0},{"M":114.5,"K":76,"p":0},{"M":114.5,"K":78,"p":0},{"M":114.5,"K":80,"p":0},{"M":114.5,"K":82,"p":0},{"M":114.5,"K":84,"p":0},
{"M":118.5,"K":38,"p":0.93},{"M":118.5,"K":64,"p":0.95},{"M":118.5,"K":66,"p":0.9},{"M":118.5,"K":68,"p":0.82},{"M":118.5,"K":70,"p":0.6},{"M":118.5,"K":72,"p":0.35},{"M":118.5,"K":74,"p":0.1},{"M":118.5,"K":76,"p":0},{"M":118.5,"K":78,"p":0},{"M":118.5,"K":80,"p":0},{"M":118.5,"K":82,"p":0},{"M":118.5,"K":84,"p":0},
{"M":122.5,"K":72,"p":0.95},{"M":122.5,"K":74,"p":0.9},{"M":122.5,"K":76,"p":0.8},{"M":122.5,"K":78,"p":0.6},{"M":122.5,"K":80,"p":0.35},{"M":122.5,"K":82,"p":0.1},{"M":122.5,"K":84,"p":0},
{"M":126.5,"K":72,"p":0.95},{"M":126.5,"K":74,"p":0.9},{"M":126.5,"K":76,"p":0.88},{"M":126.5,"K":78,"p":0.83},{"M":126.5,"K":80,"p":0.7},{"M":126.5,"K":82,"p":0.45},{"M":126.5,"K":84,"p":0.2}
],
"boundary":[{"M":7,"K":5.9},{"M":130,"K":67.5}]
},
"layer":[
{"data":{"name":"cells"},
"mark":{"type":"rect","clip":true,"strokeWidth":1},
"encoding":{
"x":{"field":"M","type":"quantitative","bin":{"binned":true,"step":4},"scale":{"domain":[7,130],"nice":false,"zero":false},"axis":{"orient":"bottom","values":[20,40,60,80,100,120],"title":"Sample size M","labelPadding":5,"titlePadding":4}},
"y":{"field":"K","type":"quantitative","bin":{"binned":true,"step":2},"scale":{"domain":[2.4,85.2],"nice":false,"zero":false},"axis":{"orient":"left","values":[10,20,30,40,50,60,70,80],"title":"Sparsity K","labelPadding":2.5,"titlePadding":9}},
"color":{"field":"p","type":"quantitative","scale":{"domain":[0,1],"range":["#000000","#ffffff"],"interpolate":"rgb"},"legend":null},
"stroke":{"field":"p","type":"quantitative","scale":{"domain":[0,1],"range":["#000000","#ffffff"],"interpolate":"rgb"},"legend":null}
}},
{"data":{"name":"boundary"},
"mark":{"type":"line","color":"#808080","strokeWidth":2.2,"clip":true},
"encoding":{
"x":{"field":"M","type":"quantitative","scale":{"domain":[7,130],"nice":false,"zero":false},"axis":{"orient":"top","values":[20,40,60,80,100,120],"labels":false,"title":null}},
"y":{"field":"K","type":"quantitative","scale":{"domain":[2.4,85.2],"nice":false,"zero":false},"axis":{"orient":"right","values":[10,20,30,40,50,60,70,80],"labels":false,"title":null}}
}}
],
"resolve":{"axis":{"x":"independent","y":"independent"}}
}
